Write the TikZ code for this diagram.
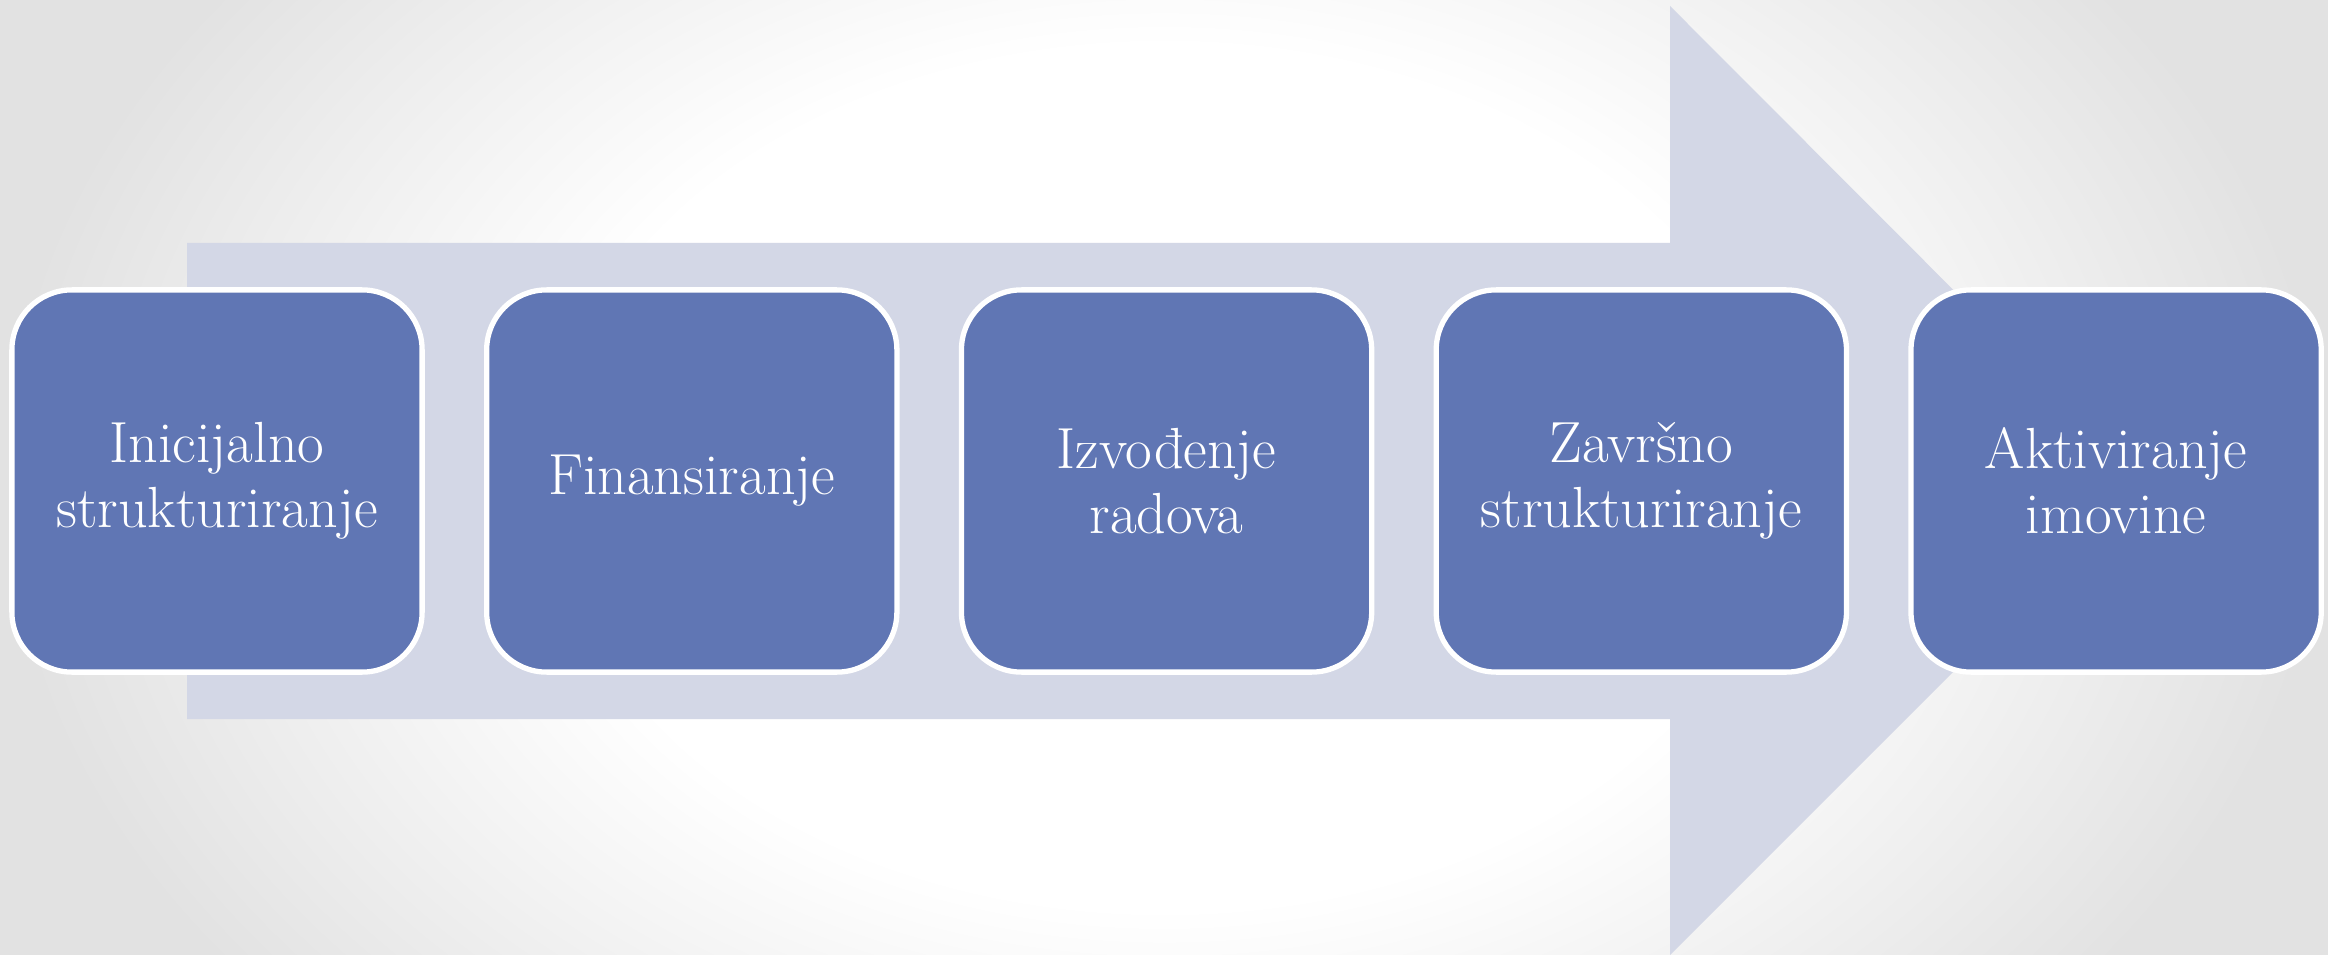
\documentclass[tikz,border=0pt]{standalone}
\usepackage{tikz}
\usetikzlibrary{positioning}
\definecolor{stageblue}{RGB}{96,118,180}
\definecolor{arrowgrey}{RGB}{211,215,230}
\definecolor{edgegrey}{RGB}{226,226,226}
\pgfdeclareradialshading{backshade}{\pgfpoint{0bp}{0bp}}{color(0bp)=(white); color(13bp)=(white); color(25bp)=(edgegrey); color(50bp)=(edgegrey)}

\begin{document}
\begin{tikzpicture}[x=0.01cm,y=-0.01cm]
    \tikzset{stage/.style={draw=white, line width=1.5pt, fill=stageblue,
        rounded corners=0.6cm, minimum width=4.1cm, minimum height=3.82cm,
        outer sep=0pt, inner sep=0pt, align=center, text=white,
        font=\fontsize{16.5}{18.4}\selectfont}}
    \useasboundingbox (0,0) rectangle (2328,955);
    \begin{scope}
        \clip (0,0) rectangle (2328,955);
        \shade[shading=backshade] (0,-350) rectangle (2328,1305);
    \end{scope}
    \coordinate (a) at (187,243);
    \coordinate (b) at (1670,243);
    \coordinate (c) at (1670,6);
    \coordinate (t) at (2144,481);
    \coordinate (d) at (1670,955);
    \coordinate (e) at (1670,719);
    \coordinate (f) at (187,719);
    \fill[arrowgrey] (a) -- (b) -- (c) -- (t) -- (d) -- (e) -- (f) -- cycle;
    \node[stage] (init) at (217,481) {Inicijalno\\strukturiranje};
    \node[stage, right=0.645cm of init] (fin) {Finansiranje};
    \node[stage, right=0.645cm of fin] (izv) {Izvođenje\\radova};
    \node[stage, right=0.645cm of izv] (zav) {Završno\\strukturiranje};
    \node[stage, right=0.645cm of zav] (akt) {Aktiviranje\\imovine};
\end{tikzpicture}
\end{document}
